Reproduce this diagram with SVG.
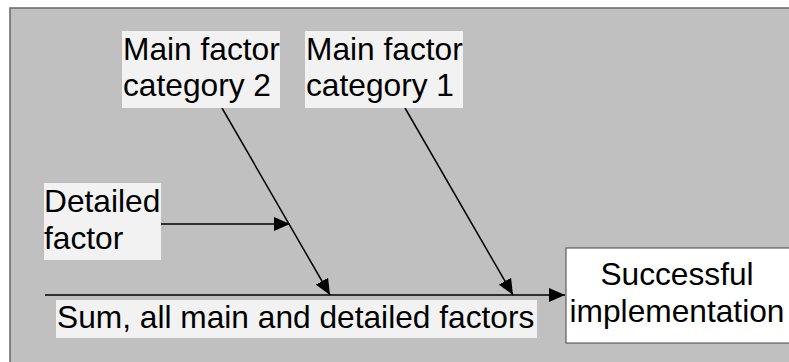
<svg xmlns="http://www.w3.org/2000/svg" width="789" height="362" viewBox="0 0 789 362">
<defs>
<style>
.lbl{fill:#f2f2f2;stroke:none}
.t{font-family:"Liberation Sans",Arial,sans-serif;font-size:31.7px;fill:#000}
.ln{stroke:#000;stroke-width:1.5;fill:none}
</style>
<marker id="ahb" viewBox="0 0 16 14" refX="16" refY="7" markerWidth="16" markerHeight="14" markerUnits="userSpaceOnUse" orient="auto">
<path d="M0,0 L16,7 L0,14 Z" fill="#000"/>
</marker>
</defs>
<rect x="0" y="0" width="789" height="362" fill="#ffffff"/>
<rect x="10" y="8" width="790" height="370" fill="#c0c0c0" stroke="#666" stroke-width="1.5"/>
<g id="connectors">
<line class="ln" x1="45" y1="295" x2="565" y2="295" marker-end="url(#ahb)"/>
<line class="ln" x1="222" y1="108" x2="330" y2="295" marker-end="url(#ahb)"/>
<line class="ln" x1="405" y1="108" x2="513" y2="295" marker-end="url(#ahb)"/>
<line class="ln" x1="161" y1="224" x2="290" y2="224" marker-end="url(#ahb)"/>
</g>
<g id="cat2">
<rect class="lbl" x="122" y="31" width="158" height="77"/>
<text class="t" x="123" y="60">Main factor</text>
<text class="t" x="123" y="96">category 2</text>
</g>
<g id="cat1">
<rect class="lbl" x="305" y="31" width="158" height="77"/>
<text class="t" x="306" y="60">Main factor</text>
<text class="t" x="306" y="96">category 1</text>
</g>
<g id="detailed">
<rect class="lbl" x="44" y="183" width="117" height="77"/>
<text class="t" x="44" y="212">Detailed</text>
<text class="t" x="44" y="249">factor</text>
</g>
<g id="sum">
<rect class="lbl" x="56" y="300" width="481" height="38"/>
<text class="t" x="57" y="328">Sum, all main and detailed factors</text>
</g>
<g id="success">
<rect x="566" y="248" width="240" height="95" fill="#fff" stroke="#444" stroke-width="1"/>
<text class="t" x="677" y="285" text-anchor="middle">Successful</text>
<text class="t" x="677" y="322" text-anchor="middle">implementation</text>
</g>
</svg>
